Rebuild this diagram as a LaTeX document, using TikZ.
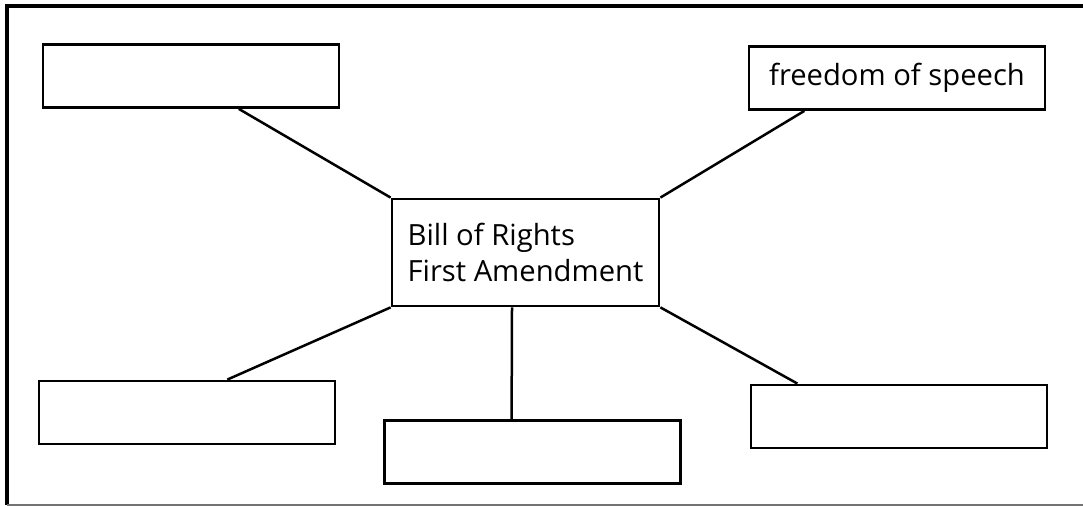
\documentclass[tikz,border=0pt]{standalone}
\usepackage{fontspec}
\setmainfont{Open Sans}
\usetikzlibrary{calc}

\tikzset{
  answer/.style={draw,line width=1.4pt,minimum width=148pt,minimum height=31.5pt,
    inner sep=0pt,font=\fontsize{14.6}{18}\selectfont},
  spoke/.style={line width=1.25pt}
}

\begin{document}
\begin{tikzpicture}[x=0.5pt,y=-0.5pt]
      \useasboundingbox (0,0) rectangle (1083,506);

      % Draw the frame (open on the right)
      \draw[line width=1.6pt] (1083,6) -- (7,6) -- (7,505);
      \draw[line width=1pt,black!55] (7,505) -- (1083,505);

      % Central box
      \node[answer,minimum width=133.5pt,minimum height=53.5pt,align=left]
        (bill) at (525.5,252.5) {Bill of Rights\\First Amendment};

      % The one filled-in box
      \node[answer] (speech) at (897,78) {freedom of speech};

      % Empty boxes to fill in
      \foreach \n/\x/\y in {tl/191/76, bl/187/412.5, bm/532.5/452, br/899/416.5} {
        \node[answer] (\n) at (\x,\y) {};
      }

      % Draw the spokes
      \draw[spoke] ($(tl.south west)!.66!(tl.south east)$) -- (bill.north west);
      \draw[spoke] ($(speech.south west)!.19!(speech.south east)$) -- (bill.north east);
      \draw[spoke] (bill.south west) -- ($(bl.north west)!.635!(bl.north east)$);
      \draw[spoke] ($(bill.south west)!.45!(bill.south east)$) --
        ($(bm.north west)!.43!(bm.north east)$);
      \draw[spoke] (bill.south east) -- ($(br.north west)!.16!(br.north east)$);
\end{tikzpicture}
\end{document}
